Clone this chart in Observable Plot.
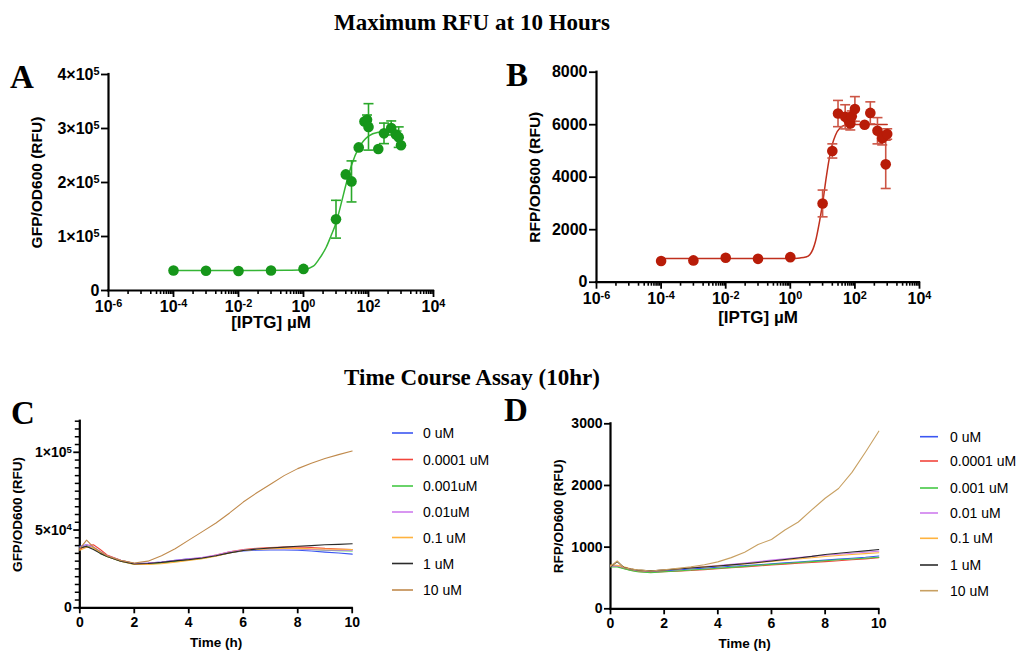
<!DOCTYPE html>
<html><head><meta charset="utf-8">
<script src="https://cdn.jsdelivr.net/npm/d3@7"></script>
<script src="https://cdn.jsdelivr.net/npm/@observablehq/plot@0.6"></script>
<style>
body{margin:0;background:#fff;}
#root{position:relative;width:1019px;height:652px;overflow:hidden;background:#fff;}
.abs{position:absolute;}
.abs svg{display:block;overflow:visible;}
</style></head><body><div id="root"></div>
<script>
// ---------- Data: panel A (GFP dose response) ----------
const iptgA = [1e-4,1e-3,1e-2,1e-1,1,10,20,30,50,75,90,100,200,300,500,700,850,1000];
const gfpMean = [37000,36500,36000,37000,40000,132000,215000,202000,265000,313000,316000,303000,262000,291000,301000,289000,284000,269000];
const gfpErr  = [0,0,0,0,0,35000,0,38000,0,0,9000,43000,0,19000,13000,0,19000,0];
const gfpFitX = [1e-4,1e-2,0.3,1,2,3,5,7,10,15,20,30,50,70,100,200,500,1000];
const gfpFitY = [37000,37000,37500,38500,45000,58000,80000,101000,125000,165000,195000,232000,264000,277000,286000,293000,295000,295500];
// ---------- Data: panel B (RFP dose response) ----------
const iptgB = [1e-4,1e-3,1e-2,1e-1,1,10,20,30,50,65,72,80,100,200,300,500,700,800,900,1000];
const rfpMean = [810,830,930,890,955,3000,5000,6425,6300,6140,6050,6325,6600,6000,6450,5770,5480,5560,4490,5645];
const rfpErr  = [0,0,0,0,0,510,270,500,460,150,250,200,470,0,420,500,250,0,920,200];
const rfpFitX = [1e-4,1,2,3,4,5,6,8,10,13,16,20,25,35,50,100,1000];
const rfpFitY = [900,905,925,960,1050,1250,1550,2300,3000,4000,4700,5250,5600,5880,5980,6010,6010];
// ---------- Data: time course ----------
const hours = [0,0.25,0.5,0.75,1,1.5,2,2.5,3,3.5,4,4.5,5,5.5,6,6.5,7,7.5,8,8.5,9,9.5,10];
const namesC = ["0 uM","0.0001 uM","0.001uM","0.01uM","0.1 uM","1 uM","10 uM"];
const namesD = ["0 uM","0.0001 uM","0.001 uM","0.01 uM","0.1 uM","1 uM","10 uM"];
const colorsC = ["#3b56f2","#f2453b","#45c845","#cf7cee","#ffb33f","#2b2b2b","#c08a4c"];
const colorsD = ["#3b56f2","#f2453b","#45c845","#cf7cee","#ffb33f","#2b2b2b","#c8a062"];
// GFP/OD600 in thousands of RFU
const gfpK = [
 [39.5,40.5,39,36,33.5,30.5,28.5,28.8,29.5,30.5,31.5,32,33.5,35.5,36.5,37,37.2,37.2,37,36.5,35.8,35.2,34.5],
 [37.5,40,40.5,37.5,34,30.5,28.5,28.5,29,30,31,32,34,36,37.5,38.3,38.8,39,39.2,38.8,38.2,37.8,37.5],
 [38.5,40,38.5,35,33,30,28,28,28.8,29.8,30.8,31.8,33.5,35.5,37,37.8,38.2,38.3,38,37.5,37,36.8,36.5],
 [39,40.5,39,36,33.5,30.5,28.5,28.8,29.5,30.5,31.5,32.5,34,36,37.2,37.8,38,38,37.8,37.5,37.2,37,37],
 [37,39,38.5,35.5,33,30,27.8,27.8,28.3,29.3,30.5,31.5,33.2,35.3,36.8,37.5,38,38.2,38.2,38,37.8,37.7,37.5],
 [38.5,39.5,37.5,35,33,30,28.2,28.5,29.2,30.2,31,32,33.5,35.3,36.8,37.8,38.5,39,39.6,40,40.5,40.8,41.2],
 [38,43.5,39,36,33.5,30.5,28.8,30,33.5,38,43.5,49,54.5,61,68,74,79.5,85,89.5,93,96,98.5,100.8]
];
const GFP_UNIT = 1000;
// RFP/OD600 in RFU
const rfp = [
 [690,700,670,640,620,605,615,630,645,660,675,690,700,715,730,745,760,775,790,805,820,835,855],
 [700,690,655,625,605,590,600,610,620,635,650,665,680,695,710,725,740,752,765,780,795,810,830],
 [680,680,650,620,600,585,600,612,628,642,658,672,688,705,720,735,750,765,780,795,808,820,835],
 [690,700,670,645,625,612,628,648,668,685,702,720,742,765,790,810,830,850,868,885,900,918,935],
 [710,705,680,650,630,615,630,648,665,680,695,710,728,748,768,788,808,828,848,865,880,895,910],
 [680,765,670,645,628,615,630,645,662,678,695,712,730,752,775,800,825,850,880,900,920,940,962],
 [690,775,665,645,632,612,632,655,682,715,761,830,918,1043,1125,1277,1408,1603,1793,1951,2212,2538,2880]
];
// tick labels
const decadeTicks = [1e-6,1e-4,1e-2,1,1e2,1e4];
const decadeLabels = ["10^-6","10^-4","10^-2","10^0","10^2","10^4"];
const ticksA = [0,1e5,2e5,3e5,4e5];
const labelsA = ["0","1×10^5","2×10^5","3×10^5","4×10^5"];
const ticksB = [0,2000,4000,6000,8000];
const ticksCmaj = [0,5e4,1e5];
const labelsCmaj = ["0","5×10^4","1×10^5"];
const ticksD = [0,1000,2000,3000];
const timeTicks = [0,2,4,6,8,10];

// ---------- helpers ----------
const root = document.getElementById("root");
function place(el, left, top){
  const w = document.createElement("div"); w.className = "abs";
  w.style.left = left + "px"; w.style.top = top + "px";
  w.appendChild(el); root.appendChild(w);
}
function superscripts(svg){
  const walker = document.createTreeWalker(svg, NodeFilter.SHOW_TEXT);
  const nodes = []; while (walker.nextNode()) nodes.push(walker.currentNode);
  for (const n of nodes) {
    const s = n.nodeValue; if (!s.includes("^")) continue;
    const [b, e] = s.split("^");
    n.nodeValue = b;
    const ts = document.createElementNS("http://www.w3.org/2000/svg", "tspan");
    ts.setAttribute("dy", "-0.45em"); ts.setAttribute("font-size", "0.68em");
    ts.textContent = e;
    n.parentNode.insertBefore(ts, n.nextSibling);
  }
  return svg;
}
// minor log ticks as seen on the reference: one tick in the first decade of each 2-decade span, then 1..9 in the second
const minorLog = [];
for (let k = -6; k < 4; k += 2) {
  minorLog.push(4 * 10 ** k);
  for (let m = 1; m <= 9; m++) minorLog.push(m * 10 ** (k + 1));
}
const hbar = {draw(ctx, size){ const r = Math.sqrt(size / Math.PI); ctx.moveTo(-r, 0); ctx.lineTo(r, 0); }};
const FONT = '"Liberation Sans", Arial, sans-serif';

function dosePanel(o){
  const pts = o.x.map((x, i) => ({x, y: o.y[i], e: o.e[i]}));
  const withErr = pts.filter(d => d.e > 0);
  const caps = withErr.flatMap(d => [{x: d.x, y: d.y - d.e}, {x: d.x, y: d.y + d.e}]);
  const fit = o.fx.map((x, i) => ({x, y: o.fy[i]}));
  return superscripts(Plot.plot({
    width: o.width, height: o.height,
    marginLeft: o.ml, marginTop: o.mt, marginRight: o.mr, marginBottom: o.mb,
    x: {type: "log", domain: [1e-6, 1e4], label: null},
    y: {domain: o.ydomain, label: null},
    style: {fontFamily: FONT, fontSize: "16px", fontWeight: "bold", color: "#000", background: "transparent"},
    marks: [
      Plot.axisX({ticks: decadeTicks, tickSize: 7, tickPadding: 3, strokeWidth: 1.8, tickFormat: d => decadeLabels[decadeTicks.indexOf(d)], label: null}),
      Plot.axisX({ticks: minorLog, tickSize: 4, strokeWidth: 1.6, tickFormat: () => "", label: null}),
      Plot.axisY({ticks: o.yticks, tickSize: 7, tickPadding: 2, strokeWidth: 1.8, tickFormat: o.yfmt, label: null}),
      Plot.ruleX([1e-6], {strokeWidth: 2.2, strokeLinecap: "square"}),
      Plot.ruleY([0], {strokeWidth: 2.2, strokeLinecap: "square"}),
      Plot.line(fit, {x: "x", y: "y", curve: "monotone-x", stroke: o.lineColor, strokeWidth: 1.5}),
      Plot.ruleX(withErr, {x: "x", y1: d => d.y - d.e, y2: d => d.y + d.e, stroke: o.errColor, strokeWidth: 1.6}),
      Plot.dot(caps, {x: "x", y: "y", symbol: hbar, r: 5, stroke: o.errColor, strokeWidth: 1.6}),
      Plot.dot(pts, {x: "x", y: "y", r: 5.3, fill: o.dotColor}),
      Plot.text([o.ylabel], {frameAnchor: "left", dx: o.ydx, rotate: -90, textAnchor: "middle", lineAnchor: "middle", fontSize: 15.5}),
      Plot.text([o.xlabel], {frameAnchor: "bottom", dy: o.xdy, textAnchor: "middle", lineAnchor: "middle", fontSize: 17})
    ]
  }));
}

function timePanel(o){
  const lines = o.data.map((vals, i) => Plot.line(hours.map((t, j) => ({t, v: vals[j] * o.unit})),
    {x: "t", y: "v", stroke: o.colors[i], strokeWidth: 1.1}));
  return superscripts(Plot.plot({
    width: o.width, height: o.height,
    marginLeft: o.ml, marginTop: o.mt, marginRight: o.mr, marginBottom: o.mb,
    x: {domain: [0, 10], label: null},
    y: {domain: o.ydomain, label: null},
    style: {fontFamily: FONT, fontSize: "14px", fontWeight: "bold", color: "#000", background: "transparent"},
    marks: [
      Plot.axisX({ticks: timeTicks, tickSize: 6, tickPadding: 3, strokeWidth: 1.8, label: null}),
      ...(o.yminor ? [Plot.axisY({ticks: o.yminor, tickSize: 4.5, strokeWidth: 1.5, tickFormat: () => "", label: null})] : []),
      Plot.axisY({ticks: o.yticks, tickSize: 6, tickPadding: 2, strokeWidth: 1.8, tickFormat: o.yfmt, label: null}),
      Plot.ruleX([0], {strokeWidth: 2.2, strokeLinecap: "square"}),
      Plot.ruleY([0], {strokeWidth: 2.2, strokeLinecap: "square"}),
      ...lines,
      Plot.text([o.ylabel], {frameAnchor: "left", dx: o.ydx, rotate: -90, textAnchor: "middle", lineAnchor: "middle", fontSize: 13.5}),
      Plot.text(["Time (h)"], {frameAnchor: "bottom", dy: 35, textAnchor: "middle", lineAnchor: "middle", fontSize: 13.5})
    ]
  }));
}

// ---------- Panel A ----------
place(dosePanel({
  x: iptgA, y: gfpMean, e: gfpErr, fx: gfpFitX, fy: gfpFitY,
  width: 470, height: 285, ml: 108, mt: 19, mr: 37, mb: 50,
  ydomain: [0, 400000], yticks: ticksA, yfmt: d => labelsA[ticksA.indexOf(d)],
  dotColor: "#16961a", errColor: "#2aa82a", lineColor: "#35b535",
  ylabel: "GFP/OD600 (RFU)", ydx: -71, xlabel: "[IPTG] µM", xdy: 32
}), 0, 55);

// ---------- Panel B ----------
place(dosePanel({
  x: iptgB, y: rfpMean, e: rfpErr, fx: rfpFitX, fy: rfpFitY,
  width: 470, height: 285, ml: 96, mt: 21.7, mr: 51, mb: 53.3,
  ydomain: [0, 8000], yticks: ticksB, yfmt: d => String(d),
  dotColor: "#b81c08", errColor: "#cc5545", lineColor: "#c0301e",
  ylabel: "RFP/OD600 (RFU)", ydx: -61, xlabel: "[IPTG] µM", xdy: 35
}), 500, 50);

// ---------- Panel C ----------
const minorC = d3.range(0, 120001, 5000).filter(v => !ticksCmaj.includes(v));
place(timePanel({
  data: gfpK, unit: GFP_UNIT, colors: colorsC,
  width: 370, height: 252, ml: 79.3, mt: 20.7, mr: 18.3, mb: 44.7,
  ydomain: [0, 120000], yticks: ticksCmaj, yminor: minorC, yfmt: d => labelsCmaj[ticksCmaj.indexOf(d)],
  ylabel: "GFP/OD600 (RFU)", ydx: -62
}), 0, 400);

// ---------- Panel D ----------
place(timePanel({
  data: rfp, unit: 1, colors: colorsD,
  width: 380, height: 252, ml: 90, mt: 23.3, mr: 21.7, mb: 43.7,
  ydomain: [0, 3000], yticks: ticksD, yminor: null, yfmt: d => String(d),
  ylabel: "RFP/OD600 (RFU)", ydx: -52
}), 520, 400);

// ---------- Titles, panel letters, legends ----------
const ns = "http://www.w3.org/2000/svg";
const ov = document.createElementNS(ns, "svg");
ov.setAttribute("width", 1019); ov.setAttribute("height", 652);
ov.style.position = "absolute"; ov.style.left = "0"; ov.style.top = "0"; ov.style.pointerEvents = "none";
function addText(txt, x, y, attrs){
  const t = document.createElementNS(ns, "text");
  t.setAttribute("x", x); t.setAttribute("y", y);
  for (const k in attrs) t.setAttribute(k, attrs[k]);
  t.textContent = txt; ov.appendChild(t);
}
const serif = {"font-family": '"Liberation Serif", "Times New Roman", serif', "font-weight": "bold"};
addText("Maximum RFU at 10 Hours", 472, 30, {...serif, "font-size": 23, "text-anchor": "middle"});
addText("Time Course Assay (10hr)", 472, 385, {...serif, "font-size": 23, "text-anchor": "middle"});
addText("A", 10, 88, {...serif, "font-size": 33});
addText("B", 506, 86, {...serif, "font-size": 33});
addText("C", 11, 424, {...serif, "font-size": 33});
addText("D", 504, 421, {...serif, "font-size": 33});
function legend(names, colors, x1, x2, tx, ys){
  names.forEach((n, i) => {
    const l = document.createElementNS(ns, "line");
    l.setAttribute("x1", x1); l.setAttribute("x2", x2); l.setAttribute("y1", ys[i]); l.setAttribute("y2", ys[i]);
    l.setAttribute("stroke", colors[i]); l.setAttribute("stroke-width", 1.6);
    ov.appendChild(l);
    addText(n, tx, ys[i] + 5, {"font-family": FONT, "font-size": 14});
  });
}
legend(namesC, colorsC, 392, 413, 423, [433, 459.5, 486, 512, 537.5, 563.5, 590]);
legend(namesD, colorsD, 920, 938, 950, [436.7, 461, 488, 513, 538.3, 565, 590.7]);
root.appendChild(ov);
</script></body></html>
